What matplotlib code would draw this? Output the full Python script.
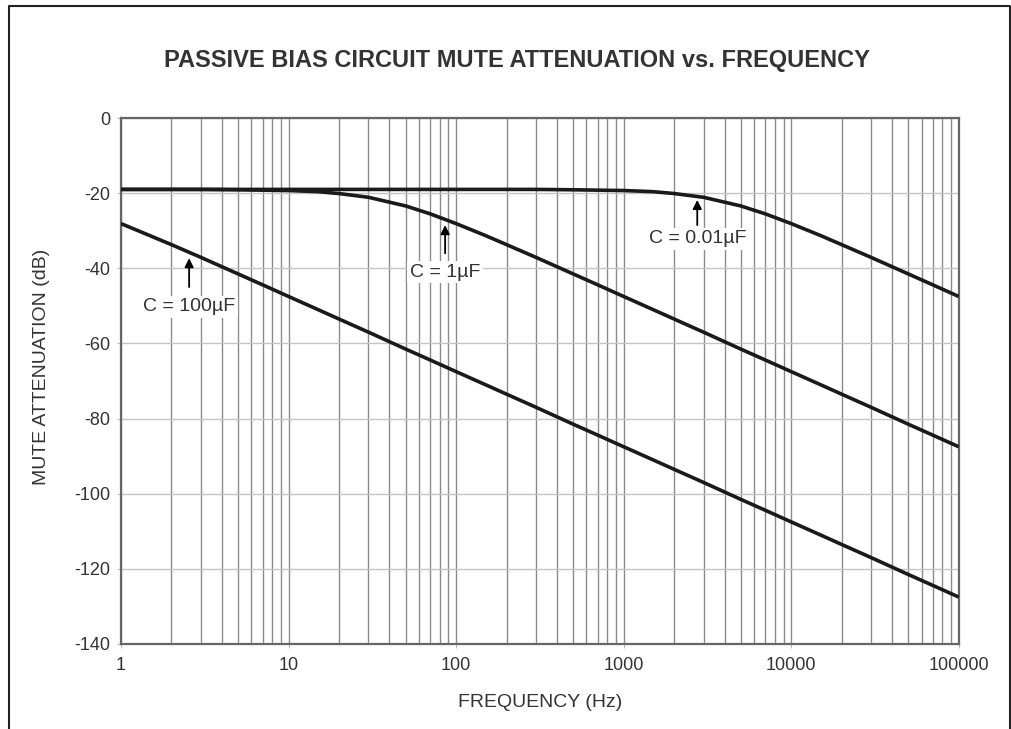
import numpy as np
import matplotlib
matplotlib.use("Agg")
import matplotlib.pyplot as plt
from matplotlib.lines import Line2D
from matplotlib.ticker import LogLocator, FixedLocator, NullFormatter

plt.rcParams['font.family'] = ['Liberation Sans', 'DejaVu Sans']
plt.rcParams['axes.unicode_minus'] = False

# readings (Hz, dB)
freq = [1, 2, 3, 5, 7, 10, 15, 20, 30, 50, 70, 100, 150, 200, 300, 500, 700,
        1000, 1500, 2000, 3000, 5000, 7000, 10000, 15000, 20000, 30000,
        50000, 70000, 100000]
att_001uF = [-19.0, -19.0, -19.0, -19.0, -19.0, -19.0, -19.0, -19.0, -19.0,
             -19.0, -19.0, -19.0, -19.0, -19.0, -19.0, -19.1, -19.2, -19.3,
             -19.6, -20.1, -21.1, -23.4, -25.5, -28.1, -31.3, -33.7, -37.1,
             -41.5, -44.4, -47.5]
att_1uF = [-19.0, -19.0, -19.0, -19.1, -19.2, -19.3, -19.6, -20.1, -21.1,
           -23.4, -25.5, -28.1, -31.3, -33.7, -37.1, -41.5, -44.4, -47.5,
           -51.0, -53.5, -57.0, -61.5, -64.4, -67.5, -71.0, -73.5, -77.0,
           -81.5, -84.4, -87.5]
att_100uF = [-28.1, -33.7, -37.1, -41.5, -44.4, -47.5, -51.0, -53.5, -57.0,
             -61.5, -64.4, -67.5, -71.0, -73.5, -77.0, -81.5, -84.4, -87.5,
             -91.0, -93.5, -97.0, -101.5, -104.4, -107.5, -111.0, -113.5,
             -117.0, -121.5, -124.4, -127.5]

# labels: (text, arrow tip f, tip dB, tail dB, text dB)
labels = [
    ("C = 100µF", 2.55, -37.3, -45.0, -50.3),
    ("C = 1µF", 86, -28.5, -36.0, -41.0),
    ("C = 0.01µF", 2750, -21.8, -28.5, -32.2),
]

xticks = [1, 10, 100, 1000, 10000, 100000]
yticks = [0, -20, -40, -60, -80, -100, -120, -140]

txt = '#333333'
fs = 13
fig = plt.figure(figsize=(10.11, 7.29), dpi=100)
ax = fig.add_axes([0.1197, 0.1166, 0.8286, 0.7215])

for ys in (att_001uF, att_1uF, att_100uF):
    ax.plot(freq, ys, color='#1a1a1a', lw=2.6, solid_capstyle='butt', zorder=4)

ax.set_xscale('log')
ax.set_xlim(1, 100000)
ax.set_ylim(-140, 0)
ax.xaxis.set_major_locator(FixedLocator(xticks))
ax.set_xticklabels([str(t) for t in xticks])
ax.xaxis.set_minor_locator(LogLocator(base=10, subs=np.arange(2, 10)))
ax.xaxis.set_minor_formatter(NullFormatter())
ax.set_yticks(yticks)

ax.grid(True, which='both', axis='x', color='#8a8a8a', lw=1.0)
ax.grid(True, which='major', axis='y', color='#c4c4c4', lw=1.0)
ax.tick_params(axis='both', which='major', direction='out', length=3,
               width=0.8, color='#bbbbbb', labelsize=fs, labelcolor=txt)
ax.tick_params(axis='x', which='minor', length=0)
ax.tick_params(axis='x', pad=6.5)
ax.tick_params(axis='y', pad=5)
for sp in ax.spines.values():
    sp.set_color('#666666')
    sp.set_linewidth(1.6)

for text, f, tip, tail, ty in labels:
    ax.annotate('', xy=(f, tip), xytext=(f, tail),
                arrowprops=dict(arrowstyle='-|>', color='black', lw=1.3,
                                mutation_scale=13, shrinkA=0, shrinkB=0),
                zorder=5)
    ax.text(f, ty, text, ha='center', va='center', fontsize=14, color=txt,
            bbox=dict(facecolor='white', edgecolor='none', pad=2), zorder=5)

fig.text(0.511, 0.917, 'PASSIVE BIAS CIRCUIT MUTE ATTENUATION vs. FREQUENCY',
         ha='center', va='center', fontsize=17, fontweight='bold', color=txt)
fig.text(0.534, 0.037, 'FREQUENCY (Hz)', ha='center', va='center',
         fontsize=14, color=txt)
fig.text(0.0415, 0.4966, 'MUTE ATTENUATION (dB)', ha='center', va='center',
         rotation=90, fontsize=14, color=txt)

# frame around the figure (left, top, right)
fx0, fx1, fy = 8.5 / 1011, 1009.5 / 1011, 1 - 5.5 / 729
fig.add_artist(Line2D([fx0, fx0, fx1, fx1], [0, fy, fy, 0],
                      color='#222222', lw=1.5, transform=fig.transFigure))

fig.savefig('out.png', dpi=100)
